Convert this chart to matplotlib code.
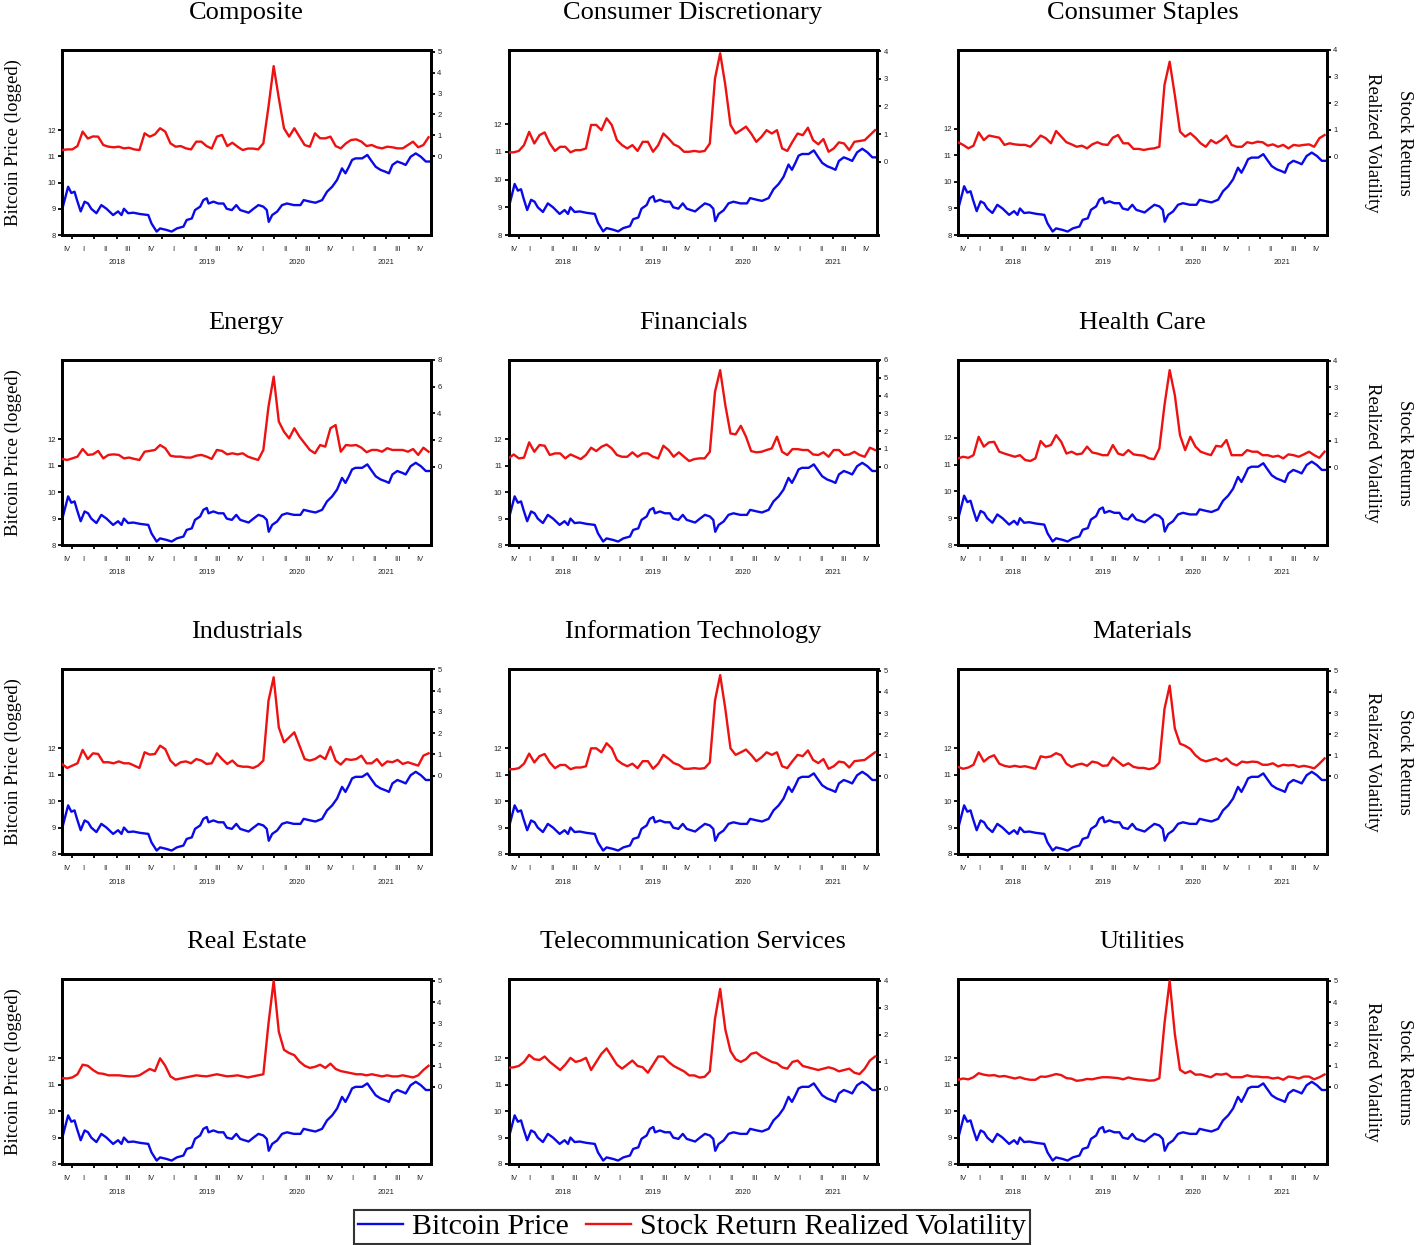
import numpy as np
import pandas as pd
import matplotlib
matplotlib.use("Agg")
import matplotlib.pyplot as plt
from matplotlib.lines import Line2D

# ---------------- data ----------------
btc_dates = ['2017-11-21','2017-12-16','2017-12-29','2018-01-11','2018-01-21','2018-02-05','2018-02-21',
             '2018-03-07','2018-03-20','2018-04-10','2018-04-30','2018-05-21','2018-06-17','2018-07-07',
             '2018-07-21','2018-07-31','2018-08-17','2018-09-07','2018-10-04','2018-11-07','2018-11-20',
             '2018-12-11','2018-12-25','2019-01-21','2019-02-10','2019-03-03','2019-03-30','2019-04-12',
             '2019-05-03','2019-05-16','2019-06-06','2019-06-19','2019-07-03','2019-07-10','2019-07-30',
             '2019-08-19','2019-09-09','2019-09-22','2019-10-13','2019-10-31','2019-11-16','2019-12-20',
             '2020-01-09','2020-01-29','2020-02-18','2020-03-03','2020-03-11','2020-03-25','2020-04-14',
             '2020-05-04','2020-05-24','2020-06-21','2020-07-18','2020-07-31','2020-08-27','2020-09-17',
             '2020-10-14','2020-11-03','2020-11-24','2020-12-14','2021-01-03','2021-01-17','2021-01-31',
             '2021-02-13','2021-02-27','2021-03-26','2021-04-16','2021-04-30','2021-05-20','2021-06-09',
             '2021-06-29','2021-07-13','2021-07-27','2021-08-16','2021-09-05','2021-09-19','2021-10-09',
             '2021-10-30','2021-11-20','2021-12-10','2021-12-30']
btc_log = [8.95, 9.84, 9.60, 9.65, 9.33, 8.90, 9.27, 9.20, 9.00, 8.83, 9.14, 9.00, 8.76, 8.90,
           8.76, 9.00, 8.83, 8.85, 8.80, 8.76, 8.44, 8.13, 8.25, 8.19, 8.13, 8.25, 8.32, 8.57,
           8.63, 8.95, 9.08, 9.33, 9.40, 9.20, 9.27, 9.20, 9.20, 9.00, 8.95, 9.14, 8.95, 8.85,
           9.00, 9.14, 9.08, 8.95, 8.50, 8.76, 8.89, 9.14, 9.20, 9.14, 9.14, 9.33, 9.27, 9.23,
           9.33, 9.65, 9.84, 10.10, 10.54, 10.35, 10.60, 10.86, 10.92, 10.92, 11.05, 10.86, 10.60,
           10.48, 10.41, 10.35, 10.67, 10.80, 10.73, 10.67, 10.98, 11.11, 10.98, 10.80, 10.80]

# realized volatility, sampled every 21 days from 2017-11-21
vol_dates = pd.date_range('2017-11-21', periods=72, freq='21D')

vol_composite = [0.30,0.33,0.33,0.49,1.18,0.85,0.95,0.94,0.54,0.46,
                 0.43,0.46,0.38,0.41,0.33,0.30,1.10,0.94,1.05,1.34,
                 1.18,0.62,0.46,0.49,0.38,0.33,0.70,0.70,0.49,0.37,
                 0.94,1.02,0.49,0.65,0.46,0.30,0.37,0.37,0.33,0.62,
                 2.37,4.31,2.77,1.34,0.94,1.34,0.94,0.54,0.46,1.10,
                 0.86,0.86,0.94,0.49,0.38,0.62,0.78,0.81,0.70,0.49,
                 0.54,0.43,0.38,0.46,0.43,0.38,0.38,0.54,0.70,0.43,
                 0.54,0.91]
vol_discretionary = [0.34,0.34,0.39,0.60,1.08,0.66,0.96,1.06,0.66,0.39,
                     0.54,0.54,0.34,0.42,0.42,0.48,1.33,1.33,1.14,1.57,
                     1.33,0.78,0.60,0.48,0.60,0.39,0.72,0.72,0.36,0.60,
                     1.02,0.84,0.63,0.54,0.36,0.36,0.39,0.36,0.39,0.66,
                     3.01,3.92,2.77,1.33,1.02,1.14,1.27,1.02,0.72,0.90,
                     1.14,1.02,1.14,0.48,0.39,0.72,1.02,0.96,1.23,0.78,
                     0.63,0.82,0.36,0.48,0.70,0.66,0.42,0.72,0.75,0.78,
                     0.96,1.14]
vol_staples = [0.54,0.44,0.31,0.41,0.91,0.62,0.79,0.75,0.71,0.44,
               0.50,0.46,0.44,0.44,0.37,0.56,0.79,0.69,0.50,0.96,
               0.75,0.54,0.46,0.37,0.41,0.31,0.46,0.54,0.46,0.44,
               0.71,0.81,0.50,0.50,0.29,0.29,0.25,0.29,0.31,0.37,
               2.69,3.56,2.31,0.94,0.75,0.88,0.71,0.50,0.37,0.62,
               0.50,0.62,0.79,0.44,0.37,0.37,0.54,0.50,0.56,0.54,
               0.41,0.46,0.37,0.44,0.31,0.44,0.41,0.44,0.46,0.37,
               0.69,0.81]
vol_energy = [0.58,0.50,0.62,0.75,1.32,0.88,0.92,1.18,0.62,0.88,
              0.92,0.88,0.62,0.68,0.58,0.50,1.12,1.18,1.25,1.62,
              1.38,0.82,0.75,0.75,0.68,0.68,0.82,0.88,0.75,0.58,
              1.25,1.18,0.92,1.00,0.92,1.00,0.75,0.62,0.50,1.25,
              4.50,6.75,3.38,2.62,2.12,2.88,2.25,1.75,1.25,1.00,
              1.62,1.50,2.88,3.12,1.12,1.62,1.58,1.62,1.42,1.08,
              1.25,1.25,1.12,1.38,1.25,1.25,1.25,1.12,1.32,0.88,
              1.42,1.12]
vol_financials = [0.47,0.69,0.47,0.51,1.37,0.84,1.22,1.18,0.66,0.75,
                  0.75,0.47,0.69,0.56,0.43,0.66,1.07,0.88,1.12,1.25,
                  1.03,0.66,0.56,0.56,0.81,0.56,0.75,0.75,0.56,0.47,
                  1.18,0.94,0.56,0.81,0.56,0.32,0.43,0.47,0.47,0.84,
                  4.21,5.43,3.46,1.87,1.82,2.30,1.69,0.88,0.81,0.84,
                  0.94,1.03,1.69,0.84,0.66,0.99,0.99,0.94,0.94,0.69,
                  0.66,0.81,0.56,0.94,0.94,0.66,0.69,0.84,0.66,0.56,
                  1.07,0.94]
vol_health = [0.34,0.40,0.36,0.46,1.15,0.78,0.94,0.96,0.59,0.52,
              0.46,0.40,0.46,0.28,0.24,0.34,0.99,0.78,0.84,1.21,
              0.96,0.52,0.59,0.49,0.52,0.78,0.56,0.52,0.46,0.46,
              0.84,0.52,0.46,0.65,0.49,0.46,0.44,0.34,0.31,0.71,
              2.34,3.65,2.71,1.21,0.65,1.15,0.78,0.59,0.52,0.46,
              0.81,0.78,1.03,0.46,0.46,0.46,0.65,0.59,0.59,0.46,
              0.46,0.40,0.44,0.34,0.49,0.46,0.40,0.49,0.59,0.46,
              0.36,0.59]
vol_industrials = [0.55,0.36,0.47,0.58,1.21,0.78,1.05,1.02,0.63,0.63,
                   0.58,0.67,0.58,0.58,0.47,0.36,1.10,0.99,1.02,1.41,
                   1.25,0.71,0.47,0.63,0.67,0.58,0.78,0.71,0.55,0.58,
                   1.05,0.78,0.55,0.71,0.47,0.42,0.42,0.36,0.47,0.71,
                   3.53,4.63,2.27,1.57,1.80,2.04,1.41,0.78,0.71,0.78,
                   0.94,0.78,1.36,0.71,0.52,0.78,0.74,0.78,0.94,0.58,
                   0.58,0.78,0.47,0.67,0.63,0.74,0.55,0.63,0.55,0.47,
                   0.94,1.05]
vol_it = [0.34,0.34,0.39,0.60,1.08,0.66,0.96,1.06,0.66,0.39,
          0.54,0.54,0.34,0.42,0.42,0.48,1.33,1.33,1.14,1.57,
          1.33,0.78,0.60,0.48,0.60,0.39,0.72,0.72,0.36,0.60,
          1.02,0.84,0.63,0.54,0.36,0.36,0.39,0.36,0.39,0.66,
          3.60,4.80,3.20,1.33,1.02,1.14,1.27,1.02,0.72,0.90,
          1.14,1.02,1.14,0.48,0.39,0.72,1.02,0.96,1.23,0.78,
          0.63,0.82,0.36,0.48,0.70,0.66,0.42,0.72,0.75,0.78,
          0.96,1.14]
vol_materials = [0.45,0.36,0.42,0.55,1.15,0.70,0.90,1.00,0.60,0.50,
                 0.45,0.50,0.45,0.48,0.42,0.36,0.95,0.90,0.95,1.10,
                 1.00,0.60,0.45,0.55,0.60,0.50,0.70,0.65,0.50,0.52,
                 0.90,0.70,0.50,0.62,0.45,0.40,0.40,0.34,0.40,0.65,
                 3.20,4.30,2.27,1.55,1.45,1.30,1.00,0.80,0.71,0.78,
                 0.85,0.72,0.85,0.62,0.52,0.70,0.66,0.70,0.68,0.55,
                 0.55,0.62,0.47,0.55,0.52,0.54,0.45,0.50,0.45,0.38,
                 0.60,0.85]
vol_realestate = [0.42,0.40,0.45,0.60,1.05,1.00,0.80,0.65,0.62,0.55,
                  0.55,0.55,0.52,0.50,0.50,0.55,0.70,0.85,0.75,1.35,
                  1.00,0.50,0.35,0.40,0.45,0.50,0.55,0.52,0.50,0.55,
                  0.60,0.55,0.50,0.52,0.55,0.50,0.45,0.50,0.55,0.60,
                  3.00,5.00,2.60,1.75,1.60,1.50,1.20,1.00,0.90,0.95,
                  1.05,0.90,1.10,0.85,0.75,0.70,0.65,0.60,0.60,0.55,
                  0.60,0.55,0.50,0.55,0.50,0.50,0.55,0.50,0.45,0.55,
                  0.80,1.00]
vol_telecom = [0.78,0.80,0.85,1.00,1.26,1.10,1.07,1.20,1.00,0.85,
               0.70,0.90,1.15,1.00,1.05,1.15,0.70,1.00,1.30,1.50,
               1.20,0.90,0.75,0.90,1.05,0.85,0.80,0.60,0.90,1.20,
               1.20,1.00,0.85,0.75,0.65,0.50,0.50,0.42,0.45,0.65,
               2.60,3.70,2.20,1.40,1.10,1.00,1.10,1.30,1.35,1.20,
               1.10,1.00,0.95,0.80,0.75,1.00,1.05,0.85,0.80,0.75,
               0.70,0.75,0.80,0.75,0.65,0.70,0.75,0.60,0.55,0.75,
               1.05,1.20]
vol_utilities = [0.34,0.40,0.36,0.46,0.65,0.58,0.54,0.56,0.49,0.52,
                 0.46,0.40,0.46,0.38,0.34,0.34,0.49,0.48,0.54,0.61,
                 0.56,0.42,0.39,0.29,0.32,0.38,0.36,0.42,0.46,0.46,
                 0.44,0.42,0.36,0.45,0.39,0.36,0.34,0.30,0.31,0.41,
                 3.00,5.00,2.50,0.81,0.65,0.75,0.58,0.59,0.52,0.46,
                 0.61,0.58,0.63,0.46,0.46,0.46,0.55,0.49,0.49,0.46,
                 0.46,0.40,0.44,0.34,0.49,0.46,0.40,0.49,0.49,0.36,
                 0.46,0.59]

sector_names = ['Composite', 'Consumer Discretionary', 'Consumer Staples',
                'Energy', 'Financials', 'Health Care',
                'Industrials', 'Information Technology', 'Materials',
                'Real Estate', 'Telecommunication Services', 'Utilities']
sector_vols = [vol_composite, vol_discretionary, vol_staples,
               vol_energy, vol_financials, vol_health,
               vol_industrials, vol_it, vol_materials,
               vol_realestate, vol_telecom, vol_utilities]

left_ticks = [8, 9, 10, 11, 12]
quarter_labels = ['IV', 'I', 'II', 'III'] * 4 + ['IV']
year_labels = ['2018', '2019', '2020', '2021']

# axis ranges per panel
left_top = [15.05, 14.67, 14.98, 15.0, 15.0, 14.9, 15.0, 15.0, 15.0, 15.0, 15.0, 15.0]
right_lo = [-3.76, -2.65, -2.94, -5.88, -4.40, -2.91, -3.69, -3.68, -3.68, -3.63, -2.78, -3.63]
right_hi = [5.08, 4.04, 4.00, 8.00, 6.00, 4.03, 5.02, 5.09, 5.09, 5.09, 4.07, 5.09]
right_tick_max = [5, 4, 4, 8, 6, 4, 5, 5, 5, 5, 4, 5]
right_tick_step = [1, 1, 1, 2, 1, 1, 1, 1, 1, 1, 1, 1]

# ---------------- figure ----------------
W, H = 1417, 1245
fig = plt.figure(figsize=(W / 100, H / 100), dpi=100)
BLUE = '#0a0ae8'
RED = '#ee1111'
SERIF = ['Liberation Serif', 'DejaVu Serif']
SANS = ['Liberation Sans', 'DejaVu Sans']

col_left = [62, 508.5, 958]
row_top = [50, 360, 669, 979]
aw, ah = 369, 185

xmin = pd.Timestamp('2017-11-21')
xmax = pd.Timestamp('2021-12-31')
q_starts = pd.date_range('2018-01-01', '2021-10-01', freq='QS')
edges = [xmin] + list(q_starts) + [xmax]
q_mids = [edges[i] + (edges[i + 1] - edges[i]) / 2 for i in range(len(edges) - 1)]
year_mids = [pd.Timestamp(f'{y}-07-02') for y in year_labels]

btc_x = pd.to_datetime(btc_dates)

for i, name in enumerate(sector_names):
    r, c = divmod(i, 3)
    ax = fig.add_axes([col_left[c] / W, 1 - (row_top[r] + ah) / H, aw / W, ah / H])
    ax.plot(btc_x, btc_log, color=BLUE, lw=1.7, zorder=3)
    ax.set_ylim(8, left_top[i])
    ax.set_yticks(left_ticks)
    ax.set_yticklabels([str(t) for t in left_ticks], family=SANS, fontsize=5.5)
    ax.set_xlim(xmin, xmax)
    ax.set_xticks(q_starts)
    ax.set_xticklabels([''] * len(q_starts))
    ax.set_xticks(q_mids, minor=True)
    ax.set_xticklabels(quarter_labels, minor=True, family=SANS, fontsize=5.5)
    ax.tick_params(axis='x', which='major', direction='out', length=3, width=1.3)
    ax.tick_params(axis='x', which='minor', length=0, pad=8, colors='#222222')
    ax.tick_params(axis='y', direction='out', length=3, width=1.3, pad=1.5, labelcolor='#222222')
    for y, lab in zip(year_mids, year_labels):
        ax.text(y, -28 / ah, lab, transform=ax.get_xaxis_transform(), ha='center', va='center',
                fontsize=5.5, family=SANS, color='#222222')

    ax2 = ax.twinx()
    ax2.plot(vol_dates, sector_vols[i], color=RED, lw=1.7, zorder=3)
    ax2.set_ylim(right_lo[i], right_hi[i])
    rt = list(range(0, right_tick_max[i] + 1, right_tick_step[i]))
    ax2.set_yticks(rt)
    ax2.set_yticklabels([str(t) for t in rt], family=SANS, fontsize=5.5)
    ax2.tick_params(axis='y', direction='out', length=3, width=1.3, pad=1.5, labelcolor='#222222')
    for a in (ax, ax2):
        for s in a.spines.values():
            s.set_linewidth(2.0)
            s.set_color('black')

    ax.text(0.5, 1 + 37 / ah, name, transform=ax.transAxes, ha='center', va='center',
            fontsize=19, family=SERIF)

    yc = 1 - (row_top[r] + ah / 2) / H
    if c == 0:
        fig.text(13 / W, yc, 'Bitcoin Price (logged)', rotation=90, ha='center', va='center',
                 fontsize=13.5, family=SERIF)
    if c == 2:
        fig.text(1405 / W, yc, 'Stock Returns', rotation=-90, ha='center', va='center',
                 fontsize=13.5, family=SERIF)
        fig.text(1373 / W, yc, 'Realized Volatility', rotation=-90, ha='center', va='center',
                 fontsize=13.5, family=SERIF)

handles = [Line2D([], [], color=BLUE, lw=1.7), Line2D([], [], color=RED, lw=1.7)]
leg = fig.legend(handles, ['Bitcoin Price', 'Stock Return Realized Volatility'],
                 loc='center', bbox_to_anchor=(692 / W, 1 - 1227 / H), ncol=2,
                 frameon=True, fancybox=False, shadow=False, edgecolor='black',
                 prop={'family': SERIF, 'size': 21.5}, handlelength=1.5, handletextpad=0.3,
                 columnspacing=0.6, borderpad=0.12, borderaxespad=0)
leg.get_frame().set_linewidth(1.5)

fig.savefig('out.png', dpi=100)
